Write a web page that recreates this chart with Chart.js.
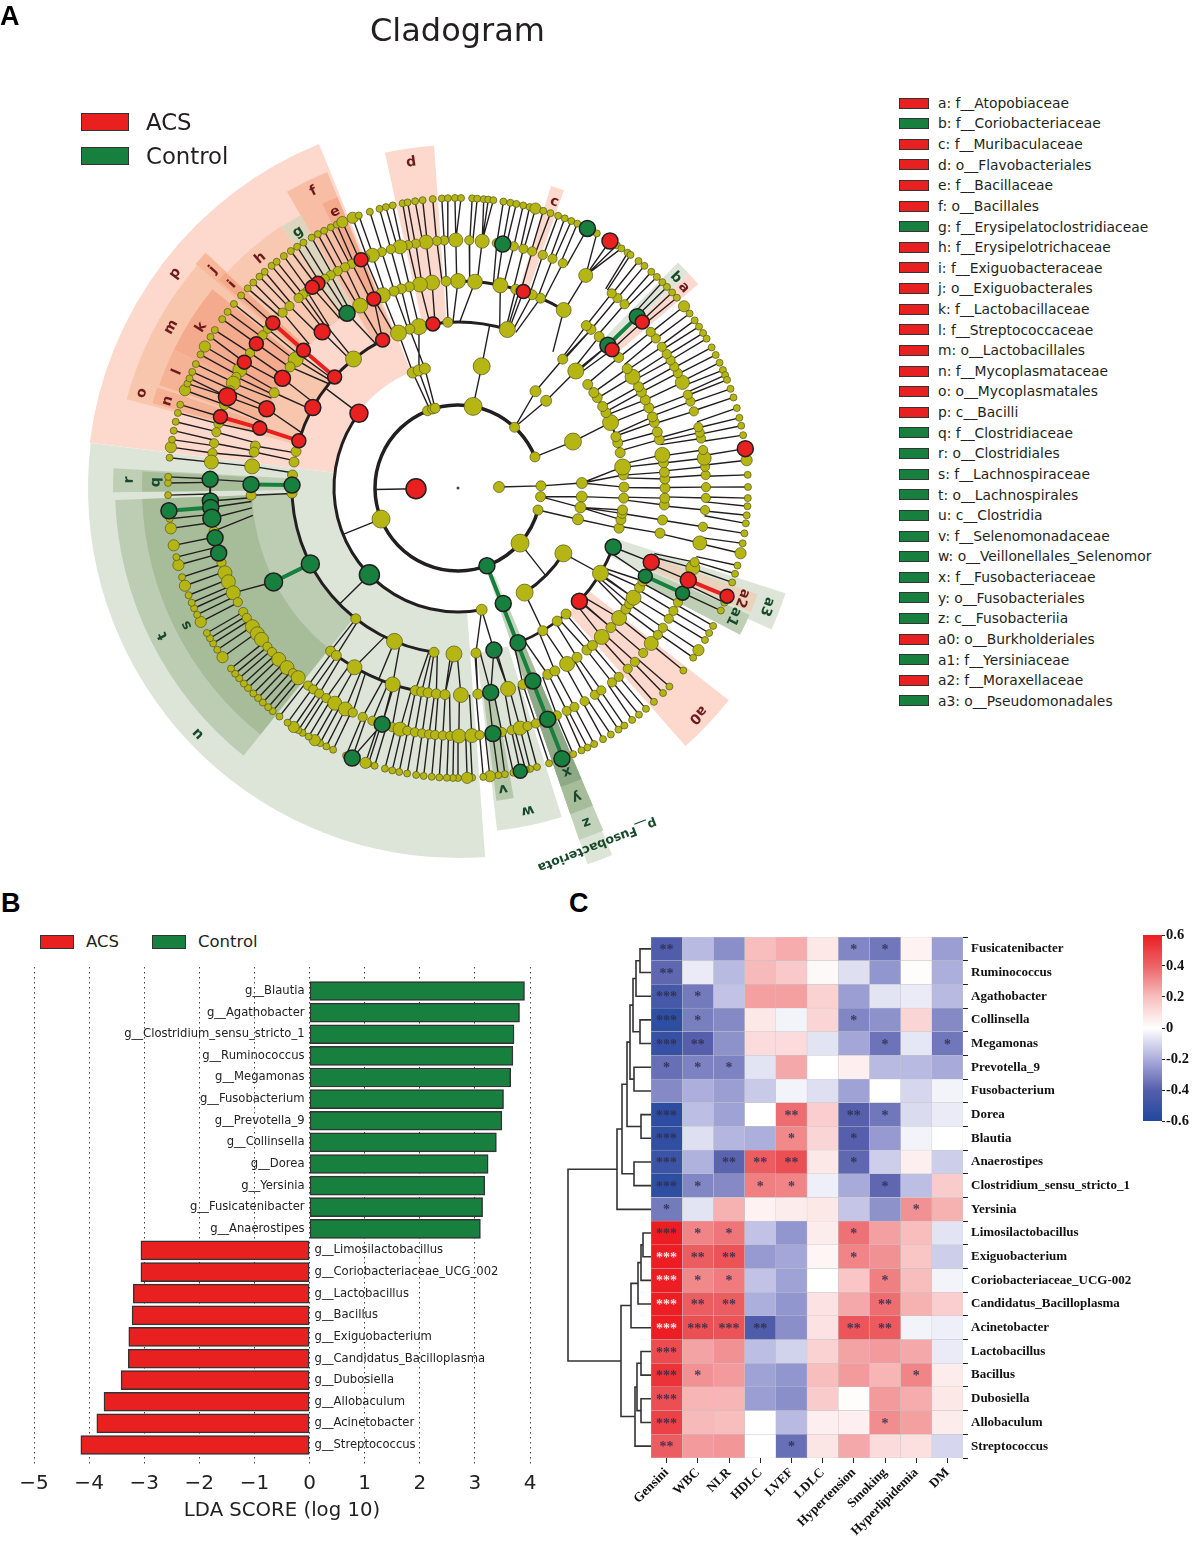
<!DOCTYPE html>
<html>
<head>
<meta charset="utf-8">
<title>Cladogram, LDA score and correlation heatmap</title>
<script src="https://cdn.jsdelivr.net/npm/chart.js@4/dist/chart.umd.min.js"></script>
<style>
html, body { margin: 0; padding: 0; background: #fff; }
#page { position: relative; width: 1196px; height: 1543px; overflow: hidden; font-family: "DejaVu Sans", sans-serif; color: #231f20; }
#page canvas { position: absolute; }
.txt { position: absolute; white-space: nowrap; line-height: 1; transform: translateY(-50%); }
.panel { font-family: "Liberation Sans", sans-serif; font-weight: bold; font-size: 27px; color: #000; }
.box { position: absolute; border: 1.5px solid #333; box-sizing: border-box; }
</style>
</head>
<body>
<div id="page">
  <canvas id="clado" style="left:0;top:0"></canvas>
  <canvas id="lda" style="left:0;top:960px"></canvas>
  <canvas id="dendro" style="left:560px;top:925px"></canvas>
  <canvas id="heat" style="left:610px;top:925px"></canvas>
  <canvas id="cbar" style="left:1130px;top:925px"></canvas>
</div>
<script>
// panel A: clade legend
var cladeKeys = ['a: f__Atopobiaceae','b: f__Coriobacteriaceae','c: f__Muribaculaceae','d: o__Flavobacteriales','e: f__Bacillaceae','f: o__Bacillales','g: f__Erysipelatoclostridiaceae','h: f__Erysipelotrichaceae','i: f__Exiguobacteraceae','j: o__Exiguobacterales','k: f__Lactobacillaceae','l: f__Streptococcaceae','m: o__Lactobacillales','n: f__Mycoplasmataceae','o: o__Mycoplasmatales','p: c__Bacilli','q: f__Clostridiaceae','r: o__Clostridiales','s: f__Lachnospiraceae','t: o__Lachnospirales','u: c__Clostridia','v: f__Selenomonadaceae','w: o__Veillonellales_Selenomor','x: f__Fusobacteriaceae','y: o__Fusobacteriales','z: c__Fusobacteriia','a0: o__Burkholderiales','a1: f__Yersiniaceae','a2: f__Moraxellaceae','a3: o__Pseudomonadales'];
var cladeGroup = ['ACS','Control','ACS','ACS','ACS','ACS','Control','ACS','ACS','ACS','ACS','ACS','ACS','ACS','ACS','ACS','Control','Control','Control','Control','Control','Control','Control','Control','Control','Control','ACS','Control','ACS','Control'];

// cladogram nodes, as angle in degrees per ring
var ring41 = [1.4];
var ring83 = [111.5,107.8,106,79.5,47,22,202,-41.6,-15.4,-6,1.5];
var ring83Big = [79.5,202,-41.6];
var ring124 = [79,111.4,108.5,105.5,-79,-57.5,-31.8,22,44.7,51.3,2.3,-4,-9,-14.6];
var ring124Big = [79,-57.5,-31.8,22];
var ring166 = [72.7,93.5,103.6,106.9,111,129,167.3,171,175.5,181.8,232,247.5,261.7,268.6,-83.8,-59.3,-53.3,-49.4,-30.9,-14,-11,-8.8,-7.6,-3.5,0.3,4.5,7.3,12.3,15.8,18,23.2,27,29.4,33,35.1,38.6,44.8,50.9];
var ring166Big = [72.7,103.6,111,129,247.5,268.6,-30.9,23.2,7.3,44.8];
var ring207 = [59.3,66.5,69,73.8,78.2,85.3,90,93.3,97.2,100.6,103.6,105.9,108,111.3,118.2,139.9,141.6,144.2,152.6,168.3,170,174,182,232,234,240,251.6,258.1,259.9,261.7,264,266.4,270.8,-84.5,-76,-71.7,-64.3,-62.1,-58.2,-54.9,-51.5,-49.5,-46,-42.4,-38.9,-35.8,-34,-32,-28.7,-26.7,-12.6,-8.9,-4.7,-2.8,0,2.5,4.4,7,9.2,13.5,15.7,18.5,20.1,22.8,25.2,27.6,29.3,32.5,35.2,39.1,47,50,51.7];
var ring207Big = [59.3,78.2,85.3,90,97.2,100.6,111.3,118.2,141.6,174,240,251.6,270.8,-76,-58.2,-46,-38.9,-32,9.2,32.5];
var ring248 = [59,65,67.6,70,72.6,74.7,77,81,84.4,87.4,90.5,93.2,94.9,97.4,99.8,101.6,103.5,105.7,107.9,110.2,112,115.3,117.1,119,120.9,122.5,127.5,128.7,130,132.8,135,140.1,142,147,151.6,153.4,155,156.8,160.5,165,167,169.6,171.9,174,190,197.5,200,202.2,205,207.4,210,211.6,214,216,217.6,219.8,221.4,223.7,226.4,228.3,229.9,232.8,234.3,236,237.9,240.2,243,244.9,247.4,249.8,254.6,256.5,258.2,260,261.7,263.3,264.7,266.5,268.2,270.2,273.2,275,-79.8,-77.5,-75.5,-73.7,-71.7,-66.5,-64,-62,-59.3,-56.5,-54.7,-51.6,-49.6,-46.8,-44.5,-41.7,-38.8,-36.3,-34.3,-31.8,-29.7,-27.5,-18.8,-17.4,-12.8,-9,-5.1,-2.3,0.2,3,4.9,6.9,8.8,11.5,12.9,14.2,18,20.4,22.1,25.2,27.6,29.3,31,32.7,34.7,37.1,39,47.8,50,51.7];
var ring248Big = [59,84.4,90.5,97.4,103.5,110.2,151.6,155,174,200,202.2,205,214,216,217.6,223.7,226.4,229.9,240.2,243,256.5,270.2,273.2,-75.5,-38.8,-18.8,-12.8,6.9,25.2];
var ring290 = [51.5,50,48.2,46.7,45.2,43.9,42.4,41,38.8,37,35.3,33.8,32.3,31,29,27.3,25.6,24,22.9,21.9,20,18.2,16,14,12.4,10.5,5.5,2.6,0.2,-2,-3.6,-5.4,-7,-9,-11,-13,-15.5,-17.2,-19,-23.3,-25,-28.4,-30,-31.6,-34,-35.8,-39,-43.2,-45,-47.5,-49.6,-51.4,-53.1,-55,-56.4,-58.2,-60,-62,-63.5,-64.8,-66.6,-71.7,-74.2,-75.6,-76.5,-79,-80.7,-82,-83.7,-85,-87.2,-88.2,-90,-91,-92.2,-93.7,-95.2,-96.8,-98.3,-100.1,-101.7,-103.1,-104.6,-106.7,-108,-108.6,-112.7,-115.5,-117,-118.4,-119.6,-121,-122.4,-123.4,-124.5,-126,-128,-129.7,-130.9,-132.3,-133.6,-134.9,-136.4,-137.6,-139,-140.2,-141.5,-144.3,-146.1,-147.6,-148.8,-150,-152.5,-154.1,-155.5,-156.7,-158.3,-160.3,-162.1,-164.6,-166.2,-168.6,-172,-173.9,-178.6,179,177.8,174,171.9,170.4,168.6,166.8,165,163.3,160.3,158.9,157.8,156.4,154.7,152.6,150.8,148.6,147,144.4,142.6,140.6,138.4,136.5,134.9,133.2,131.8,130,128.7,126.9,125.2,123.7,122.2,120.3,118.9,117.5,116,114.7,113.5,111.3,110,107.7,105.7,104.4,103,101,100,98.5,97,95,93.2,92,90.6,89.4,87.2,86.2,84.9,84,83,81,79.6,78.4,77,75.7,74.5,72.9,71.4,69.8,68.4,67,65.7,61.4,56.8,55.7,54.2,53.5];
var ring290Big = [38.8,5.5,-13,-34,-83.7,-88.2,-108.6,-119.6,-124.5,-144.3,-152.5,-160.3,-164.6,-168.6,-172,171.9,160.3,150.8,113.5,111.3,74.5];
// ring 248 nodes whose tips converge on them
var fanHubs = [59,90.5,84.4,158.4,149.5,144.4,187,195.2,216,252.2,-75.5];

// enriched nodes: [angle, ring radius, abundance]
var acsNodes = [[181,42,10],[143,124,9],[138,166,7],[151,166,8],[163.5,166,7],[117,166,7],[98.7,166,7],[138.3,207,7],[148,207,8],[157.5,207,8],[163.2,207,7],[131,207,8],[114,207,7],[138.3,248,7],[144.4,248,7],[149.5,248,7],[158.4,248,9],[163.3,248,7],[124.4,248,7],[126,248,7],[113,248,7],[58.4,290,8],[71.6,207,7],[41.9,207,7],[42,248,7],[7.8,290,8],[-43,166,8],[-21,207,8],[-21.8,248,8],[-21.9,290,7]];
var controlNodes = [[43.6,207,8],[43.7,248,8],[79.6,248,8],[63.5,290,8],[122.4,207,8],[179,166,8],[179,207,8],[178,248,8],[183,248,8],[184.5,248,8],[184.5,290,8],[187,248,9],[191.6,248,8],[195.2,248,8],[207.2,166,9],[207,207,9],[224.4,124,10],[252.2,248,8],[248.6,290,8],[-69.6,83,8],[-68.6,124,8],[-68.8,166,8],[-68.8,207,8],[-68.8,248,8],[-69,290,8],[-77.5,166,8],[-80.9,207,8],[-81.9,248,8],[-77.6,290,7],[-20.8,166,8],[-25.2,207,7],[-25.1,248,7]];

// parent-to-child spokes the ring rule does not give: [a1, r1, a2, r2]
var extraSpokes = [[181,42,181,83],[1.4,41,1.5,83],[202,83,202,124],[79.5,83,79,124],[79,124,79,166],[72.7,166,72.7,207],[47,83,51.3,124],[47,83,44.7,124],[51.3,124,50.9,166],[44.7,124,44.8,166],[50.9,166,50,207],[44.8,166,43.6,207],[22,83,22,124],[22,124,23.2,166],[-41.6,83,-45,124],[-31.8,124,-31,166],[-57.5,124,-59.3,166],[-43,166,-42.4,207],[-31,166,-32,207],[-20.8,166,-21,207],[1.5,83,2.3,124],[-6,83,-4,124],[-6,83,-9,124],[-15.4,83,-14.6,124],[2.3,124,0.3,166],[2.3,124,4.5,166],[2.3,124,7.3,166],[-4,124,-3.5,166],[-9,124,-7.6,166],[-9,124,-8.8,166],[-9,124,-11,166],[-14.6,124,-14,166],[224.4,124,224.4,166],[232,166,232,207],[247.5,166,247.5,207],[143,124,143,166],[129,166,129,207],[117,166,114,207],[109.7,83,111.4,124],[107.8,83,108.5,124],[106,83,105.5,124],[108.5,124,103.6,166],[105.5,124,106.9,166],[111.4,124,111,166],[-79,124,-83.8,166],[-79,124,-77.5,166],[261.7,166,261.7,207],[268.6,166,266.4,207],[-83.8,166,-84.5,207],[-77.5,166,-80.9,207],[-77.5,166,-76,207],[207,207,205,248],[252.2,248,251.6,207],[248.6,290,252.2,248]];
// heavy arcs along a ring: [ring, from, to, weight]
var ringArcs = [[83,22,345,3.5],[124,143,281,3],[124,-57.5,-31.8,3],[166,117,163.5,3],[166,179,262,3],[166,72.7,98.7,3],[166,-68.8,-49.4,2.5],[166,-43,-20.8,3],[166,12,38.6,2],[207,59.3,90,3],[207,232,258,3],[248,178,195,2]];
// coloured heavy branches: [a1, r1, a2, r2]
var controlBranches = [[-69.6,83,-68.8,290],[207.2,166,207,207],[179,166,179,207],[184.5,248,184.5,290],[43.6,207,43.7,248],[-25.2,207,-25.1,248]];
var acsBranches = [[163.5,166,163.2,207],[163.2,207,163.3,248],[138,166,138.3,207],[138.3,207,138.3,248],[-21.8,248,-21.9,290]];

// clade shading: label, from angle, to angle, inner ring, outer ring, label angle, label radius
var cladeNames = ['p','u','m','f','d','j','o','t','s','k','l','h','g','e','i','n','r','q','c','a','b','a0','a3','a2','a1','w','v','p__Fusobacteriota','z','y','x'];
var cladeFrom = [112,173,139.5,112.5,94,137,162,182,182,141,154,124,120,112.5,137.2,161.5,176.7,177,70.4,40.3,43,-48.6,-24.3,-23,-27.5,-83.5,-83,-71,-71,-71,-71];
var cladeTo = [173,274.2,162,120,102.3,139.5,165,231.3,231.3,154,161,137,124,115.5,139,164.5,180.7,180.7,72.9,43,45.7,-38.1,-17.8,-19.5,-23.5,-72.5,-79.8,-67.2,-67,-67,-67];
var cladeInner = [125,125,166,166,166,206,166,166,206,206,206,206,206,206,206,206,166,207,206,207,207,166,166,207,207,166,206,95,120,166,207];
var cladeOuter = [371,370,343,342,343,345,343,343,316,316,316,316,315,315,317,317,345,316,316,315,315,344,344,318,318,345,315,398,372,345,316];
var cladeLabelAngle = [142.8,223.4,150.7,116,98.2,138.3,163.3,206.6,206.8,148,157.6,130.7,122,114,138,163.3,178.6,178.9,71.4,41.6,44,-43.4,-21,-21.2,-25,-77.8,-81.5,-68.7,-69,-69,-69];
var cladeLabelRadius = [355,358,329,330,329,328,330,330,304,303,304,303,302,302,304,303,329,302,302,302,303,330,331,305,304,330,304,383,358,331,304];
var cladeFill = {p:'#fcd9cc',u:'#dde5d8',m:'#f8c6ac',f:'#f7bea5',d:'#fcd9cc',j:'#f8b99b',o:'#f8c6ac',t:'#bdcdb4',s:'#a7bc98',k:'#f4ab8d',l:'#f5b294',h:'#f8c8b0',g:'#ddd5bd',e:'#f4ab8d',i:'#f4a98a',n:'#f5b294',r:'#bfcfb6',q:'#a7bc98',c:'#fcd9cc',a:'#fcd9cc',b:'#dde5d8',a0:'#fcd9cc',a3:'#dde5d8',a2:'#e9d3bd',a1:'#bfcfb6',w:'#dde5d8',v:'#b6c8aa','p__Fusobacteriota':'#dde5d8',z:'#c3d2ba',y:'#a7bc98',x:'#8ea986'};
var controlLabels = ['q','r','s','t','u','v','w','x','y','z','b','g','a1','a3','p__Fusobacteriota'];

// panel B: LDA scores
var controlGenera = ['g__Blautia','g__Agathobacter','g__Clostridium_sensu_stricto_1','g__Ruminococcus','g__Megamonas','g__Fusobacterium','g__Prevotella_9','g__Collinsella','g__Dorea','g__Yersinia','g__Fusicatenibacter','g__Anaerostipes'];
var controlLda = [3.90,3.81,3.71,3.69,3.65,3.52,3.49,3.39,3.24,3.18,3.14,3.10];
var acsGenera = ['g__Limosilactobacillus','g__Coriobacteriaceae_UCG_002','g__Lactobacillus','g__Bacillus','g__Exiguobacterium','g__Candidatus_Bacilloplasma','g__Dubosiella','g__Allobaculum','g__Acinetobacter','g__Streptococcus'];
var acsLda = [-3.06,-3.06,-3.20,-3.22,-3.28,-3.29,-3.42,-3.73,-3.86,-4.15];
var ldaTicks = [-5,-4,-3,-2,-1,0,1,2,3,4];

// panel C: correlation heatmap
var heatGenera = ['Fusicatenibacter','Ruminococcus','Agathobacter','Collinsella','Megamonas','Prevotella_9','Fusobacterium','Dorea','Blautia','Anaerostipes','Clostridium_sensu_stricto_1','Yersinia','Limosilactobacillus','Exiguobacterium','Coriobacteriaceae_UCG-002','Candidatus_Bacilloplasma','Acinetobacter','Lactobacillus','Bacillus','Dubosiella','Allobaculum','Streptococcus'];
var heatVars = ['Gensini','WBC','NLR','HDLC','LVEF','LDLC','Hypertension','Smoking','Hyperlipidemia','DM'];
var heatValues = [
  [-0.42,-0.17,-0.28,0.20,0.24,0.07,-0.30,-0.34,0.04,-0.24],
  [-0.38,-0.05,-0.17,0.21,0.17,0.02,-0.08,-0.26,0.01,-0.20],
  [-0.46,-0.33,-0.15,0.27,0.27,0.14,-0.24,-0.07,-0.05,-0.17],
  [-0.55,-0.32,-0.29,0.07,-0.03,0.13,-0.30,-0.27,0.13,-0.29],
  [-0.52,-0.40,-0.27,0.11,0.11,-0.07,-0.22,-0.35,-0.06,-0.34],
  [-0.36,-0.31,-0.31,-0.07,0.25,0.00,0.05,-0.17,-0.17,-0.21],
  [-0.29,-0.20,-0.24,-0.13,-0.03,-0.08,-0.23,0.00,-0.10,-0.03],
  [-0.56,-0.16,-0.23,0.00,0.38,0.15,-0.40,-0.34,-0.09,-0.05],
  [-0.54,-0.08,-0.18,-0.20,0.32,0.13,-0.40,-0.25,-0.03,0.00],
  [-0.50,-0.19,-0.39,0.42,0.46,0.07,-0.38,-0.12,0.05,-0.12],
  [-0.55,-0.30,-0.29,0.34,0.33,-0.04,-0.21,-0.38,-0.16,0.16],
  [-0.33,-0.07,0.23,0.04,0.06,0.07,-0.14,-0.27,0.30,0.23],
  [0.60,0.33,0.36,-0.15,-0.26,0.06,0.37,0.27,0.20,-0.07],
  [0.60,0.42,0.45,-0.25,-0.22,0.03,0.33,0.30,0.18,-0.12],
  [0.60,0.32,0.35,-0.15,-0.23,0.00,0.18,0.34,0.20,-0.03],
  [0.60,0.42,0.42,-0.20,-0.26,0.09,0.25,0.38,0.23,0.15],
  [0.60,0.46,0.45,-0.43,-0.28,0.09,0.44,0.43,-0.03,-0.04],
  [0.47,0.26,0.30,-0.16,-0.11,0.14,0.26,0.28,0.25,-0.05],
  [0.54,0.30,0.28,-0.23,-0.26,0.20,0.28,0.22,0.33,0.06],
  [0.46,0.22,0.22,-0.24,-0.28,0.16,0.01,0.28,0.24,0.07],
  [0.50,0.21,0.20,0.00,-0.17,0.05,0.05,0.31,0.27,0.06],
  [0.42,0.28,0.29,0.00,-0.36,0.08,0.25,0.11,0.10,-0.10]
];
var heatStars = [
  ['**','','','','','','*','*','',''],
  ['**','','','','','','','','',''],
  ['***','*','','','','','','','',''],
  ['***','*','','','','','*','','',''],
  ['***','**','','','','','','*','','*'],
  ['*','*','*','','','','','','',''],
  ['','','','','','','','','',''],
  ['***','','','','**','','**','*','',''],
  ['***','','','','*','','*','','',''],
  ['***','','**','**','**','','*','','',''],
  ['***','*','','*','*','','','*','',''],
  ['*','','','','','','','','*',''],
  ['***','*','*','','','','*','','',''],
  ['***','**','**','','','','*','','',''],
  ['***','*','*','','','','','*','',''],
  ['***','**','**','','','','','**','',''],
  ['***','***','***','**','','','**','**','',''],
  ['***','','','','','','','','',''],
  ['***','*','','','','','','','*',''],
  ['***','','','','','','','','',''],
  ['***','','','','','','','*','',''],
  ['**','','','','*','','','','','']
];
// row dendrogram: [left, right, height]; 100+n points at merge n
var dendroMerges = [[0,1,11],[100,2,15],[3,4,11],[101,102,18],[5,6,17],[103,104,21],[7,8,10],[105,106,24],[9,10,17],[107,108,29],[109,11,34],[12,13,8],[111,14,10],[112,15,13],[113,16,20],[17,18,10],[19,20,10],[115,116,14],[117,21,16],[114,118,30],[110,119,83]];
var barTicks = [-0.6,-0.4,-0.2,0,0.2,0.4,0.6];
var ramp = [[-0.6,33,72,158],[-0.4,86,95,172],[-0.2,172,174,220],[0,255,255,255],[0.2,248,190,190],[0.4,236,100,104],[0.6,236,30,35]];

var RED = '#e8201f', GREEN = '#17803f', INK = '#231f20', YELLOW = '#b5b614';
var sansFont = '"DejaVu Sans", sans-serif', serifFont = '"Liberation Serif", serif';
var page = document.getElementById('page');

function addText(text, x, y, size, extra) {
    var d = document.createElement('div');
    d.className = 'txt' + (extra ? ' ' + extra : '');
    d.textContent = text;
    d.style.left = x + 'px';
    d.style.top = y + 'px';
    if (size) d.style.fontSize = size + 'px';
    page.appendChild(d);
    return d;
}
function addBox(color, x, y, w, h) {
    var b = document.createElement('div');
    b.className = 'box';
    b.style.cssText = 'left:' + x + 'px;top:' + y + 'px;width:' + w + 'px;height:' + h + 'px;background:' + color;
    page.appendChild(b);
}
function sizeCanvas(id, w, h) {
    var c = document.getElementById(id);
    c.width = w; c.height = h;
    c.style.width = w + 'px'; c.style.height = h + 'px';
    return c;
}
function polar(a, r) {
    var t = a * Math.PI / 180;
    return { x: r * Math.cos(t), y: r * Math.sin(t) };
}
function angleGap(a, b) {
    var d = Math.abs(a - b) % 360;
    return d > 180 ? 360 - d : d;
}
function rampColor(v) {
    for (var i = 1; i < ramp.length; i++) {
        if (v <= ramp[i][0]) {
            var p = ramp[i - 1], q = ramp[i], t = (v - p[0]) / (q[0] - p[0]);
            return 'rgb(' + [1, 2, 3].map(function (k) { return Math.round(p[k] + (q[k] - p[k]) * t); }).join(',') + ')';
        }
    }
    return 'rgb(236,30,35)';
}

// page text
addText('A', 0, 16, null, 'panel');
addText('B', 1, 903, null, 'panel');
addText('C', 569, 903, null, 'panel');
addText('Cladogram', 370, 30, 32);
addBox(RED, 81, 113, 48, 18);
addBox(GREEN, 81, 147, 48, 18);
addText('ACS', 146, 122, 22.8);
addText('Control', 146, 156, 22.8);
addBox(RED, 40, 935, 34, 14);
addBox(GREEN, 152, 935, 34, 14);
addText('ACS', 86, 942, 16.5);
addText('Control', 198, 942, 16.5);
cladeKeys.forEach(function (k, i) {
    var y = 103 + 20.62 * i;
    addBox(cladeGroup[i] === 'ACS' ? RED : GREEN, 899, y - 5.5, 30, 11);
    addText(k, 938, y + 0.8, 13.85);
});

// panel A
function ringPoints(list, big, r, small, large) {
    return list.map(function (a) {
        var p = polar(a, r);
        p.a = a; p.r = r;
        p.size = big.indexOf(a) >= 0 ? large : small;
        return p;
    });
}
var rings = {
    41: ringPoints(ring41, [], 41, 5.5, 5.5),
    83: ringPoints(ring83, ring83Big, 83, 5, 9),
    124: ringPoints(ring124, ring124Big, 124, 5.5, 8.5),
    166: ringPoints(ring166, ring166Big, 166, 5, 8),
    207: ringPoints(ring207, ring207Big, 207, 5, 7.5),
    248: ringPoints(ring248, ring248Big, 248, 4.6, 7),
    290: ringPoints(ring290, ring290Big, 290, 3.5, 5.6)
};
function nodeAngles(r) {
    var out = rings[r].map(function (p) { return p.a; });
    acsNodes.concat(controlNodes).forEach(function (n) { if (n[1] === r) out.push(n[0]); });
    return out;
}
var spokeData = [];
function pushSpoke(a1, r1, a2, r2, target) {
    target.push(polar(a1, r1), polar(a2, r2), { x: NaN, y: NaN });
}
function norm360(a) { return (a + 360) % 360; }
// each node hangs off the closest node one ring in; spokes stay near radial unless the parent is a hub
[[290, 248, 7, 0.3], [248, 207, 9, 0.3], [207, 166, 9, 0.5]].forEach(function (link) {
    var parents = nodeAngles(link[1]);
    nodeAngles(link[0]).forEach(function (a) {
        if (link[0] === 248 && norm360(a) > 196 && norm360(a) < 231) return;
        var best = null, gap = 999;
        parents.forEach(function (p) {
            var g = angleGap(a, p);
            if (g < gap) { gap = g; best = p; }
        });
        if (gap > link[2]) return;
        var isHub = link[0] === 290 && fanHubs.indexOf(best) >= 0;
        var end = isHub ? best : a + (best - a) * link[3];
        if (Math.abs(best - a) > 180) end = a;
        pushSpoke(a, link[0], end, link[1], spokeData);
    });
});
extraSpokes.forEach(function (s) { pushSpoke(s[0], s[1], s[2], s[3], spokeData); });
var redBranchData = [], greenBranchData = [];
acsBranches.forEach(function (s) { pushSpoke(s[0], s[1], s[2], s[3], redBranchData); });
controlBranches.forEach(function (s) { pushSpoke(s[0], s[1], s[2], s[3], greenBranchData); });

var yellowData = [].concat(rings[290], rings[248], rings[207], rings[166], rings[124], rings[83], rings[41]);
function colouredData(list) {
    return list.map(function (n) {
        var p = polar(n[0], n[1]);
        p.size = n[2];
        return p;
    });
}
var sizeOf = function (ctx) { return ctx.raw ? ctx.raw.size : 0; };

var cladePlugin = {
    id: 'clade',
    beforeDatasetsDraw: function (chart) {
        var c = chart.ctx, sx = chart.scales.x, sy = chart.scales.y;
        var cx = sx.getPixelForValue(0), cy = sy.getPixelForValue(0);
        var unit = sx.getPixelForValue(1) - cx;
        c.save();
        cladeNames.forEach(function (n, i) {
            var t1 = -cladeFrom[i] * Math.PI / 180, t2 = -cladeTo[i] * Math.PI / 180;
            c.beginPath();
            c.arc(cx, cy, cladeOuter[i] * unit, t1, t2, true);
            c.arc(cx, cy, cladeInner[i] * unit, t2, t1, false);
            c.closePath();
            c.fillStyle = cladeFill[n];
            c.fill();
        });
        c.strokeStyle = INK;
        ringArcs.forEach(function (r) {
            c.beginPath();
            c.lineWidth = r[3];
            c.arc(cx, cy, r[0] * unit, -r[1] * Math.PI / 180, -r[2] * Math.PI / 180, true);
            c.stroke();
        });
        c.restore();
    },
    afterDatasetsDraw: function (chart) {
        var c = chart.ctx, sx = chart.scales.x, sy = chart.scales.y;
        c.save();
        c.textAlign = 'center';
        c.textBaseline = 'middle';
        cladeNames.forEach(function (n, i) {
            var p = polar(cladeLabelAngle[i], cladeLabelRadius[i]);
            c.font = 'bold ' + (n.length > 2 ? 12.5 : 14) + 'px ' + sansFont;
            c.save();
            c.translate(sx.getPixelForValue(p.x), sy.getPixelForValue(p.y));
            c.rotate((90 - cladeLabelAngle[i]) * Math.PI / 180);
            c.fillStyle = controlLabels.indexOf(n) >= 0 ? '#174a2c' : '#6e1a1a';
            c.fillText(n, 0, 0);
            c.restore();
        });
        // the root dot
        c.fillStyle = '#444';
        c.beginPath();
        c.arc(sx.getPixelForValue(0), sy.getPixelForValue(0), 1.5, 0, Math.PI * 2);
        c.fill();
        c.restore();
    }
};
sizeCanvas('clado', 896, 880);
new Chart(document.getElementById('clado'), {
    type: 'scatter',
    plugins: [cladePlugin],
    data: {
        datasets: [
            { data: colouredData(acsNodes), order: 1, backgroundColor: RED, borderColor: INK, borderWidth: 1.5, pointRadius: sizeOf },
            { data: colouredData(controlNodes), order: 2, backgroundColor: GREEN, borderColor: INK, borderWidth: 1.5, pointRadius: sizeOf },
            { data: yellowData, order: 3, backgroundColor: YELLOW, borderColor: '#55551e', borderWidth: 0.7, pointRadius: sizeOf },
            { data: redBranchData, order: 4, showLine: true, spanGaps: false, borderColor: RED, borderWidth: 4, pointRadius: 0 },
            { data: greenBranchData, order: 5, showLine: true, spanGaps: false, borderColor: GREEN, borderWidth: 4, pointRadius: 0 },
            { data: spokeData, order: 6, showLine: true, spanGaps: false, borderColor: INK, borderWidth: 1.4, pointRadius: 0 }
        ]
    },
    options: {
        responsive: false,
        animation: false,
        events: [],
        layout: { padding: 0, autoPadding: false },
        plugins: { legend: { display: false }, tooltip: { enabled: false } },
        scales: {
            x: { type: 'linear', display: false, min: -458, max: 438 },
            y: { type: 'linear', display: false, min: -392, max: 488 }
        }
    }
});

// panel B
var ldaLabelPlugin = {
    id: 'ldaLabels',
    afterDatasetsDraw: function (chart) {
        var c = chart.ctx, sx = chart.scales.x, sy = chart.scales.y, zero = sx.getPixelForValue(0);
        c.save();
        c.font = '11.6px ' + sansFont;
        c.fillStyle = '#222';
        c.textBaseline = 'middle';
        c.textAlign = 'right';
        controlGenera.forEach(function (g, i) { c.fillText(g, zero - 5, sy.getPixelForValue(i + 1)); });
        c.textAlign = 'left';
        acsGenera.forEach(function (g, i) { c.fillText(g, zero + 5, sy.getPixelForValue(i + 13)); });
        c.restore();
    }
};
sizeCanvas('lda', 560, 563);
new Chart(document.getElementById('lda'), {
    type: 'bar',
    plugins: [ldaLabelPlugin],
    data: {
        datasets: [
            { label: 'Control', data: controlLda.map(function (v, i) { return { x: v, y: i + 1 }; }), backgroundColor: GREEN },
            { label: 'ACS', data: acsLda.map(function (v, i) { return { x: v, y: i + 13 }; }), backgroundColor: RED }
        ]
    },
    options: {
        indexAxis: 'y',
        responsive: false,
        animation: false,
        events: [],
        layout: { padding: { left: 34, right: 30, top: 7, bottom: 0 }, autoPadding: false },
        datasets: { bar: { grouped: false, barThickness: 19, borderColor: '#333', borderWidth: 1.5, borderSkipped: false } },
        plugins: { legend: { display: false }, tooltip: { enabled: false } },
        scales: {
            y: { type: 'linear', display: false, offset: false, reverse: true, min: -0.11, max: 22.97 },
            x: {
                type: 'linear', min: -5, max: 4,
                afterBuildTicks: function (s) { s.ticks = ldaTicks.map(function (v) { return { value: v }; }); },
                afterFit: function (s) { s.height = 57; s.paddingLeft = 0; s.paddingRight = 0; },
                border: { display: false, dash: [1.5, 3.5] },
                grid: { color: '#444', lineWidth: 1, drawTicks: false },
                ticks: {
                    padding: 6, color: '#222', font: { family: sansFont, size: 20 },
                    maxRotation: 0,
                    callback: function (v) { return String(v).replace('-', '\u2212'); }
                },
                title: { display: true, text: 'LDA SCORE (log 10)', color: '#222', font: { family: sansFont, size: 19.7 }, padding: { top: 2, bottom: 0 } }
            }
        }
    }
});

// panel C dendrogram
var dendroData = [], dendroPos = [];
function dendroPoint(ref) {
    return ref >= 100 ? dendroPos[ref - 100] : { y: ref, h: 0 };
}
dendroMerges.forEach(function (m) {
    var l = dendroPoint(m[0]), r = dendroPoint(m[1]);
    dendroData.push({ x: l.h, y: l.y }, { x: m[2], y: l.y }, { x: m[2], y: r.y }, { x: r.h, y: r.y }, { x: NaN, y: NaN });
    dendroPos.push({ y: (l.y + r.y) / 2, h: m[2] });
});
sizeCanvas('dendro', 91, 618);
new Chart(document.getElementById('dendro'), {
    type: 'scatter',
    data: { datasets: [{ data: dendroData, showLine: true, spanGaps: false, borderColor: '#333', borderWidth: 1.6, pointRadius: 0 }] },
    options: {
        responsive: false,
        animation: false,
        events: [],
        layout: { padding: { top: 12, bottom: 85, left: 0, right: 0 }, autoPadding: false },
        plugins: { legend: { display: false }, tooltip: { enabled: false } },
        scales: {
            x: { type: 'linear', display: false, reverse: true, min: 0, max: 91 },
            y: { type: 'linear', display: false, reverse: true, min: -0.5, max: 21.5 }
        }
    }
});

// panel C heatmap
var starPlugin = {
    id: 'stars',
    afterDatasetsDraw: function (chart) {
        var c = chart.ctx, sx = chart.scales.x, sy = chart.scales.y;
        c.save();
        c.font = 'bold 14px ' + serifFont;
        c.textAlign = 'center';
        c.textBaseline = 'middle';
        heatStars.forEach(function (row, i) {
            row.forEach(function (s, j) {
                if (!s) return;
                c.fillStyle = heatValues[i][j] >= 0.6 && i !== 12 ? 'rgba(255,235,235,0.95)' : 'rgba(45,45,75,0.85)';
                c.fillText(s, sx.getPixelForValue(j + 0.5), sy.getPixelForValue(heatGenera[i]) + 1.5);
            });
        });
        c.restore();
    }
};
sizeCanvas('heat', 530, 618);
new Chart(document.getElementById('heat'), {
    type: 'bar',
    plugins: [starPlugin],
    data: {
        labels: heatGenera,
        datasets: heatVars.map(function (v, j) {
            return {
                label: v,
                data: heatGenera.map(function () { return [j, j + 1]; }),
                backgroundColor: heatValues.map(function (row) { return rampColor(row[j]); })
            };
        })
    },
    options: {
        indexAxis: 'y',
        responsive: false,
        animation: false,
        events: [],
        layout: { padding: { left: 41, top: 12, right: 0, bottom: 0 }, autoPadding: false },
        datasets: { bar: { grouped: false, categoryPercentage: 1, barPercentage: 1, borderColor: 'rgba(185,185,190,0.7)', borderWidth: 0.5, borderSkipped: false } },
        plugins: { legend: { display: false }, tooltip: { enabled: false } },
        scales: {
            y: {
                type: 'category', position: 'right',
                afterFit: function (s) { s.width = 177; s.paddingTop = 0; s.paddingBottom = 0; },
                border: { display: false },
                grid: { drawOnChartArea: false, tickLength: 5, tickColor: '#222' },
                ticks: { padding: 3, color: '#111', autoSkip: false, font: { family: serifFont, size: 13, weight: 'bold' } }
            },
            x: {
                type: 'linear', min: 0, max: 10,
                afterBuildTicks: function (s) { s.ticks = heatVars.map(function (v, i) { return { value: i + 0.5 }; }); },
                afterFit: function (s) { s.height = 85; s.paddingLeft = 0; s.paddingRight = 0; },
                border: { display: false },
                grid: { drawOnChartArea: false, tickLength: 5, tickColor: '#222' },
                ticks: {
                    autoSkip: false, minRotation: 45, maxRotation: 45, padding: 2, color: '#111',
                    font: { family: serifFont, size: 13.2, weight: 'bold' },
                    callback: function (v) { return heatVars[Math.floor(v)]; }
                }
            }
        }
    }
});

// colour bar
sizeCanvas('cbar', 66, 210);
new Chart(document.getElementById('cbar'), {
    type: 'bar',
    data: {
        labels: ['r'],
        datasets: [{
            data: [[-0.6, 0.6]],
            borderWidth: 0,
            backgroundColor: function (ctx) {
                var area = ctx.chart.chartArea;
                if (!area) return '#fff';
                var g = ctx.chart.ctx.createLinearGradient(0, area.bottom, 0, area.top);
                ramp.forEach(function (s) { g.addColorStop((s[0] + 0.6) / 1.2, rampColor(s[0])); });
                return g;
            }
        }]
    },
    options: {
        responsive: false,
        animation: false,
        events: [],
        layout: { padding: { left: 13, top: 10, bottom: 14, right: 0 }, autoPadding: false },
        datasets: { bar: { categoryPercentage: 1, barPercentage: 1 } },
        plugins: { legend: { display: false }, tooltip: { enabled: false } },
        scales: {
            x: { display: false },
            y: {
                type: 'linear', position: 'right', min: -0.6, max: 0.6,
                afterBuildTicks: function (s) { s.ticks = barTicks.map(function (v) { return { value: v }; }); },
                afterFit: function (s) { s.width = 34; s.paddingTop = 0; s.paddingBottom = 0; },
                border: { display: false },
                grid: { drawOnChartArea: false, tickLength: 3, tickColor: '#222' },
                ticks: {
                    padding: 1, color: '#111', font: { family: serifFont, size: 14.5, weight: 'bold' },
                    callback: function (v) { return String(v); }
                }
            }
        }
    }
});
</script>
</body>
</html>
